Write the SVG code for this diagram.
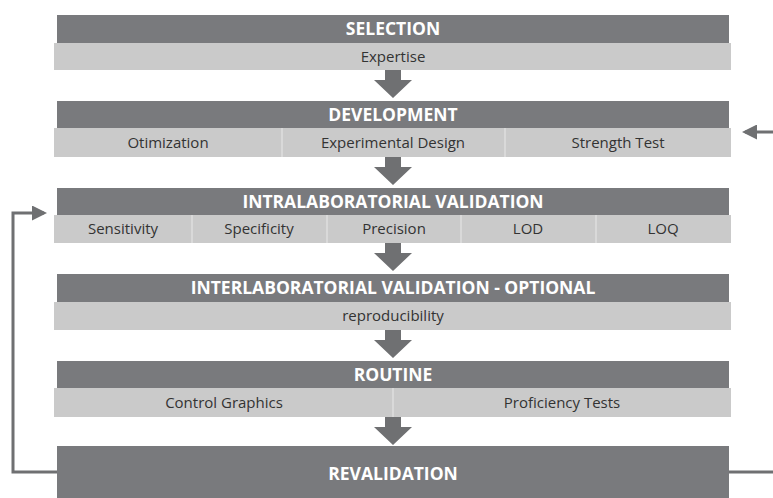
<svg xmlns="http://www.w3.org/2000/svg" width="773" height="498" viewBox="0 0 773 498">
<defs>
<style>
.hd{fill:#797a7d}
.bar{fill:#cacaca}
.div{stroke:#dedede;stroke-width:1.5}
.ht{font-family:"Open Sans","Noto Sans",sans-serif;font-weight:bold;font-size:17.5px;fill:#ffffff;text-anchor:middle}
.bt{font-family:"Open Sans","Noto Sans",sans-serif;font-size:15px;fill:#333333;text-anchor:middle}
.flow{fill:#6f7072}
.fb{fill:none;stroke:#6f7072;stroke-width:3}
</style>
<marker id="ah" markerWidth="5" markerHeight="5" refX="4" refY="2.5" orient="auto" markerUnits="strokeWidth">
<path d="M0,0 L5,2.5 L0,5 Z" fill="#6f7072"/>
</marker>
<path id="dn" d="M-8,0 H8 V10 H19 L0,28 L-19,10 H-8 Z"/>
</defs>
<rect width="773" height="498" fill="#ffffff"/>

<g id="connectors">
<use href="#dn" class="flow" x="393" y="70"/>
<use href="#dn" class="flow" x="393" y="157"/>
<use href="#dn" class="flow" x="393" y="243"/>
<use href="#dn" class="flow" x="393" y="330"/>
<use href="#dn" class="flow" x="393" y="417"/>
<path class="fb" d="M57,472 H13 V213 H44" marker-end="url(#ah)"/>
<path class="fb" d="M729,472 H780 V132 H745" marker-end="url(#ah)"/>
</g>

<g id="selection">
<rect class="hd" x="57" y="15" width="672" height="28"/>
<text class="ht" x="393" y="35">SELECTION</text>
<rect class="bar" x="54" y="43" width="677" height="27"/>
<text class="bt" x="393" y="62">Expertise</text>
</g>

<g id="development">
<rect class="hd" x="57" y="101" width="672" height="27"/>
<text class="ht" x="393" y="121">DEVELOPMENT</text>
<rect class="bar" x="54" y="128" width="677" height="29"/>
<line class="div" x1="282" y1="128" x2="282" y2="157"/>
<line class="div" x1="505" y1="128" x2="505" y2="157"/>
<text class="bt" x="168" y="148">Otimization</text>
<text class="bt" x="393" y="148">Experimental Design</text>
<text class="bt" x="618" y="148">Strength Test</text>
</g>

<g id="intralab">
<rect class="hd" x="57" y="188" width="672" height="27"/>
<text class="ht" x="393" y="208">INTRALABORATORIAL VALIDATION</text>
<rect class="bar" x="54" y="215" width="677" height="28"/>
<line class="div" x1="192" y1="215" x2="192" y2="243"/>
<line class="div" x1="327" y1="215" x2="327" y2="243"/>
<line class="div" x1="461" y1="215" x2="461" y2="243"/>
<line class="div" x1="596" y1="215" x2="596" y2="243"/>
<text class="bt" x="123" y="234">Sensitivity</text>
<text class="bt" x="259" y="234">Specificity</text>
<text class="bt" x="394" y="234">Precision</text>
<text class="bt" x="528" y="234">LOD</text>
<text class="bt" x="663" y="234">LOQ</text>
</g>

<g id="interlab">
<rect class="hd" x="57" y="274" width="672" height="28"/>
<text class="ht" x="393" y="294">INTERLABORATORIAL VALIDATION - OPTIONAL</text>
<rect class="bar" x="54" y="302" width="677" height="28"/>
<text class="bt" x="393" y="321">reproducibility</text>
</g>

<g id="routine">
<rect class="hd" x="57" y="361" width="672" height="27"/>
<text class="ht" x="393" y="381">ROUTINE</text>
<rect class="bar" x="54" y="388" width="677" height="29"/>
<line class="div" x1="393" y1="388" x2="393" y2="417"/>
<text class="bt" x="224" y="408">Control Graphics</text>
<text class="bt" x="562" y="408">Proficiency Tests</text>
</g>

<g id="revalidation">
<rect class="hd" x="57" y="446" width="672" height="60"/>
<text class="ht" x="393" y="480">REVALIDATION</text>
</g>
</svg>
